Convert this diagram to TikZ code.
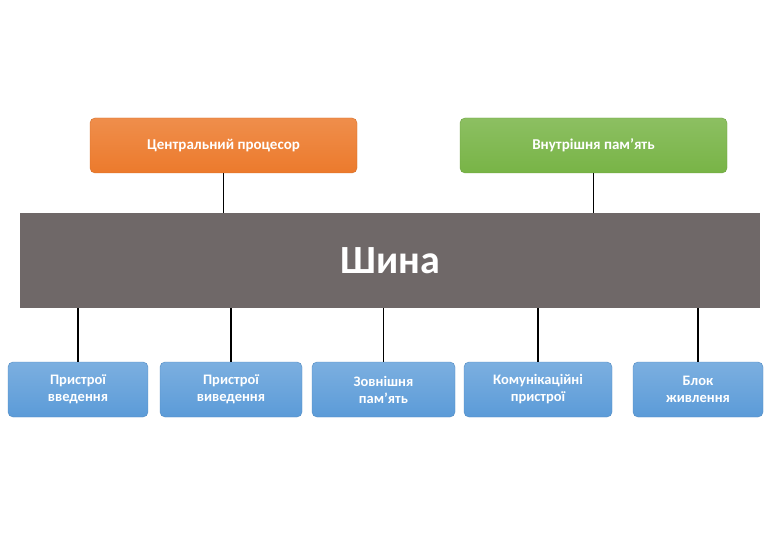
\documentclass[tikz,border=0pt]{standalone}
\usepackage{fontspec}
\setmainfont{Carlito}
\usetikzlibrary{positioning}
\definecolor{cpuorange}{HTML}{EC7A2C}
\definecolor{memgreen}{HTML}{78B446}
\definecolor{busgray}{HTML}{6F6868}
\definecolor{devblue}{HTML}{5B9BD8}
\begin{document}
\begin{tikzpicture}[x=1pt, y=-1pt, font=\bfseries]
	\tikzset{top/.style = {rectangle, rounded corners=5pt, minimum width=267pt, minimum height=55pt, text=white, font=\bfseries\fontsize{15}{18}\selectfont}}
	\tikzset{dev/.style = {rectangle, rounded corners=5pt, minimum height=55pt, text=white, align=center, top color=devblue!80, bottom color=devblue, draw=devblue!90!black, font=\bfseries\fontsize{14.5}{17}\selectfont}}
	\tikzset{link/.style = {draw=black, line width=1.2pt}}

	\useasboundingbox (0,0) rectangle (768,537);

	% Bus
	\node (bus) [rectangle, fill=busgray, minimum width=740pt, minimum height=95pt, text=white, font=\bfseries\fontsize{40}{48}\selectfont] at (390,260.5) {Шина};

	% Top level
	\node (cpu) [top, top color=cpuorange!85, bottom color=cpuorange, draw=cpuorange!90!black] at (223.5,145.5) {Центральний процесор};
	\node (mem) [top, top color=memgreen!85, bottom color=memgreen, draw=memgreen!90!black] at (593.5,145.5) {Внутрішня пам’ять};

	% Devices
	\node (in) [dev, minimum width=140pt] at (78,389.5) {Пристрої\\введення};
	\node (out) [dev, minimum width=142pt] at (231,389.5) {Пристрої\\виведення};
	\node (ext) [dev, minimum width=143pt] at (383.5,389.5) {Зовнішня\\пам’ять};
	\node (com) [dev, minimum width=148pt] at (538,389.5) {Комунікаційні\\пристрої};
	\node (pwr) [dev, minimum width=130pt] at (698,389.5) {Блок\\живлення};

	% Links
	\draw [link] (cpu.south) -- (cpu.south |- bus.north);
	\draw [link] (mem.south) -- (mem.south |- bus.north);
	\foreach \d in {in, out, ext, com, pwr}
		\draw [link] (\d.north) -- (\d.north |- bus.south);
\end{tikzpicture}
\end{document}
